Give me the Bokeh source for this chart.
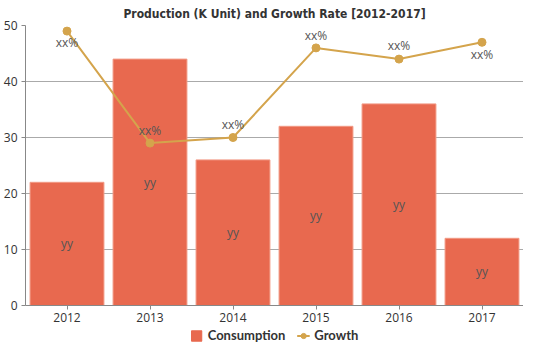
from bokeh.plotting import figure
from bokeh.layouts import column
from bokeh.models import (ColumnDataSource, FactorRange, Range1d, Legend, LegendItem,
                          Title, SingleIntervalTicker)
from bokeh.core.properties import value
from bokeh.embed import file_html
from bokeh.resources import INLINE

years = ["2012", "2013", "2014", "2015", "2016", "2017"]
consumption = [22, 44, 26, 32, 36, 12]
growth = [49, 29, 30, 46, 44, 47]
bar_labels = ["yy", "yy", "yy", "yy", "yy", "yy"]
growth_labels = ["xx%", "xx%", "xx%", "xx%", "xx%", "xx%"]
# label placement relative to the growth point (screen px, positive = below)
growth_label_offset = [11, -13, -13, -12, -14, 12]

BAR = "#E8694F"
BAR_EDGE = "#F29A85"
LINE = "#D4A44C"
TXT = "#333333"

src = ColumnDataSource(dict(
    x=years, c=consumption, g=growth,
    cmid=[v / 2 for v in consumption],
    bl=bar_labels, gl=growth_labels, goff=growth_label_offset,
))

main = figure(width=523, height=325, x_range=FactorRange(*years, range_padding=0),
              y_range=Range1d(0, 50), output_backend="svg", toolbar_location=None,
              min_border_left=0, min_border_right=0, min_border_top=0, min_border_bottom=20)
main.outline_line_color = None

t = Title(text="Production (K Unit) and Growth Rate [2012-2017]", align="center",
          text_font="DejaVu Sans Condensed", text_font_style="bold",
          text_font_size="12px", text_color=TXT, standoff=9)
main.add_layout(t, "above")

main.vbar(x="x", top="c", width=0.89, source=src, fill_color=BAR,
          line_color=BAR_EDGE, line_width=1)
main.text(x="x", y="cmid", text="bl", source=src, text_align="center",
          text_baseline="middle", text_font=value("Open Sans"),
          text_font_size="12px", text_color="#555555")

main.line(x="x", y="g", source=src, line_color=LINE, line_width=2)
main.scatter(x="x", y="g", source=src, size=8, fill_color=LINE, line_color=LINE)
main.text(x="x", y="g", text="gl", source=src, y_offset="goff", text_align="center",
          text_baseline="middle", text_font=value("Open Sans"),
          text_font_size="12px", text_color="#555555")

main.yaxis.ticker = SingleIntervalTicker(interval=10)
main.yaxis.axis_line_color = "#888888"
main.yaxis.major_tick_line_color = "#888888"
main.yaxis.major_tick_out = 4
main.yaxis.major_tick_in = 0
main.yaxis.minor_tick_line_color = None
main.yaxis.major_label_standoff = 4
main.yaxis.major_label_text_font = "Open Sans"
main.yaxis.major_label_text_font_size = "12px"
main.yaxis.major_label_text_color = TXT

main.xaxis.axis_line_color = "#888888"
main.xaxis.major_tick_line_color = "#888888"
main.xaxis.major_tick_out = 4
main.xaxis.major_tick_in = 0
main.xaxis.major_label_standoff = 3
main.xaxis.major_label_text_font = "Open Sans"
main.xaxis.major_label_text_font_size = "12px"
main.xaxis.major_label_text_color = TXT

main.xgrid.grid_line_color = None
main.ygrid.grid_line_color = "#aaaaaa"
main.ygrid.grid_line_width = 1

# legend strip below the chart (swatches carry the same styles as the series;
# its single dummy point lies outside the strip's visible range)
leg = figure(width=523, height=18, x_range=Range1d(0, 1), y_range=Range1d(0, 1),
             output_backend="svg", toolbar_location=None,
             x_axis_location=None, y_axis_location=None,
             min_border_left=0, min_border_right=0, min_border_top=0, min_border_bottom=0)
leg.grid.visible = False
leg.outline_line_color = None
dummy = ColumnDataSource(dict(x=[5], y=[5]))
r_bar = leg.vbar(x="x", top="y", width=0.5, source=dummy, fill_color=BAR, line_color=BAR)
r_line = leg.line(x="x", y="y", source=dummy, line_color=LINE, line_width=2)
r_pt = leg.scatter(x="x", y="y", source=dummy, size=6, fill_color=LINE, line_color=LINE)
legend = Legend(items=[LegendItem(label="Consumption", renderers=[r_bar]),
                       LegendItem(label="Growth", renderers=[r_line, r_pt])],
                orientation="horizontal", location="bottom",
                label_text_font="Lato", label_text_font_style="bold",
                label_text_font_size="13px", label_text_color=TXT,
                glyph_width=13, glyph_height=13, label_height=13, spacing=11,
                padding=0, margin=0, label_standoff=5,
                border_line_color=None, background_fill_alpha=0)
leg.add_layout(legend)

p = column(main, leg, spacing=0)

open("out.html", "w").write(file_html(p, INLINE))
